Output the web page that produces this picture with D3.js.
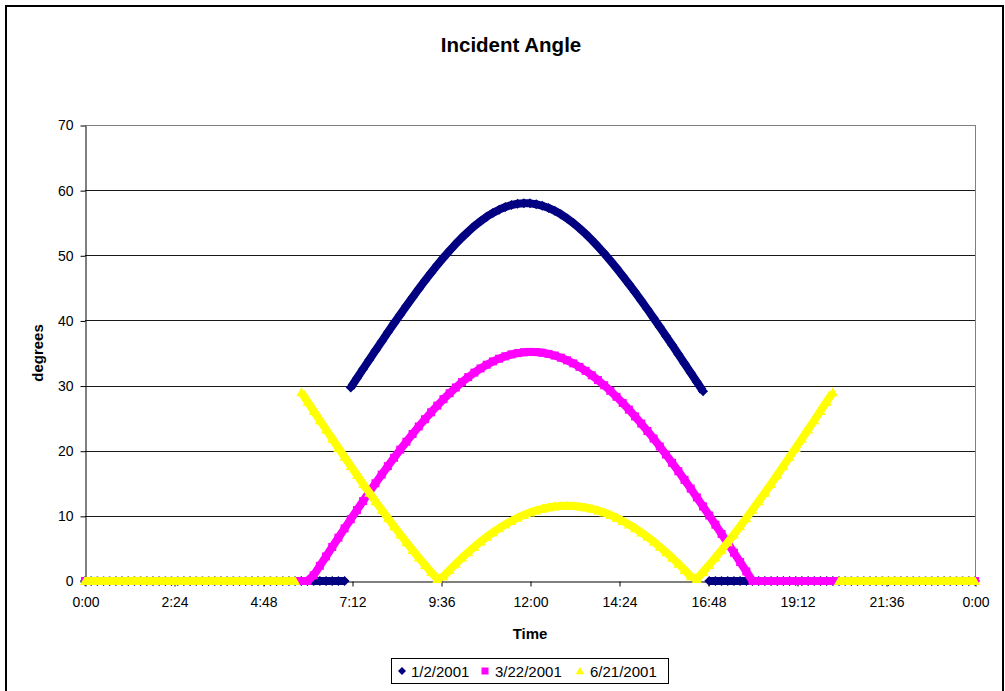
<!DOCTYPE html>
<html><head><meta charset="utf-8">
<script src="https://cdn.jsdelivr.net/npm/d3@7"></script>
<style>
body{margin:0;background:#fff}
svg{display:block}
text{font-family:"Liberation Sans",Arial,Helvetica,sans-serif;fill:#000}
</style>
</head><body>
<svg id="chart" width="1005" height="691"></svg>
<script>
// sampling grid: minutes after midnight, every 10 minutes
const minutes = d3.range(0, 1441, 10);
const seriesNames = ["1/2/2001", "3/22/2001", "6/21/2001"];
const seriesColors = ["#000080", "#FF00FF", "#FFFF00"];

const jan02 = [
  0,0,0,0,0,0,0,0,0,0,
  0,0,0,0,0,0,0,0,0,0,
  0,0,0,0,0,0,0,0,0,0,
  0,0,0,0,0,0,0,0,0,0,
  0,0,0,
  29.70,31.12,32.56,33.97,35.38,36.78,38.17,39.55,40.89,42.24,
  43.55,44.84,46.10,47.32,48.50,49.63,50.72,51.76,52.73,53.63,
  54.48,55.23,55.92,56.51,57.00,57.41,57.72,57.91,58.00,57.97,
  57.84,57.60,57.27,56.83,56.29,55.66,54.95,54.15,53.29,52.34,
  51.34,50.29,49.18,48.03,46.83,45.60,44.33,43.03,41.71,40.36,
  38.99,37.61,36.22,34.82,33.40,31.98,30.56,29.12,
  0,0,0,0,0,0,0,0,0,0,
  0,0,0,0,0,0,0,0,0,0,
  0,0,0,0,0,0,0,0,0,0,
  0,0,0,0,0,0,0,0,0,0,
  0,0,0,0
];

const mar22 = [
  0,0,0,0,0,0,0,0,0,0,
  0,0,0,0,0,0,0,0,0,0,
  0,0,0,0,0,0,0,0,0,0,
  0,0,0,0,0,0,0,
  0.88,2.33,3.77,5.22,6.65,8.08,9.49,10.89,12.27,13.65,
  15.00,16.33,17.63,18.91,20.16,21.38,22.57,23.72,24.83,25.90,
  26.92,27.91,28.83,29.71,30.53,31.29,31.99,32.63,33.20,33.71,
  34.13,34.49,34.78,34.98,35.11,35.17,35.14,35.04,34.86,34.61,
  34.28,33.88,33.41,32.87,32.26,31.58,30.84,30.05,29.19,28.28,
  27.32,26.31,25.26,24.17,23.03,21.86,20.65,19.41,18.14,16.85,
  15.53,14.19,12.83,11.45,10.05,8.64,7.22,5.79,4.35,2.91,
  1.46,
  0,0,0,0,0,0,0,0,0,0,
  0,0,0,0,0,0,0,0,0,0,
  0,0,0,0,0,0,0,0,0,0,
  0,0,0,0,0,0,0
];

const jun21 = [
  0,0,0,0,0,0,0,0,0,0,
  0,0,0,0,0,0,0,0,0,0,
  0,0,0,0,0,0,0,0,0,0,
  0,0,0,0,0,
  28.96,27.52,26.09,24.66,23.24,21.83,20.41,19.02,17.64,16.26,
  14.90,13.56,12.24,10.94,9.65,8.39,7.15,5.94,4.76,3.59,
  2.47,1.38,0.32,0.71,1.70,2.65,3.56,4.43,5.26,6.04,
  6.78,7.46,8.10,8.69,9.22,9.71,10.14,10.52,10.83,11.09,
  11.30,11.44,11.53,11.56,11.53,11.44,11.30,11.09,10.83,10.52,
  10.14,9.71,9.22,8.69,8.10,7.46,6.78,6.04,5.26,4.43,
  3.56,2.65,1.70,0.71,0.32,1.38,2.47,3.59,4.76,5.94,
  7.15,8.39,9.65,10.94,12.24,13.56,14.90,16.26,17.64,19.02,
  20.41,21.83,23.24,24.66,26.09,27.52,28.96,
  0,0,0,0,0,0,0,0,0,0,
  0,0,0,0,0,0,0,0,0,0,
  0,0,0
];

const xTickValues = [0,144,288,432,576,720,864,1008,1152,1296,1440];
const xTickLabels = ["0:00","2:24","4:48","7:12","9:36","12:00","14:24","16:48","19:12","21:36","0:00"];
const yTickValues = [0,10,20,30,40,50,60,70];

const titleText = "Incident Angle";
const xTitle = "Time";
const yTitle = "degrees";

// ---------- drawing ----------
const svg = d3.select("#chart");
const L = 85, R = 975, T = 125, B = 581;
const x = d3.scaleLinear().domain([0, 1440]).range([L, R]);
const y = d3.scaleLinear().domain([0, 70]).range([B, T]);

// chart area border
svg.append("rect").attr("x", 6).attr("y", 6).attr("width", 997).attr("height", 720)
  .attr("fill", "#fff").attr("stroke", "#000").attr("stroke-width", 2);

// title
svg.append("text").attr("x", 511).attr("y", 52).attr("text-anchor", "middle")
  .attr("font-size", 20.5).attr("font-weight", "bold").text(titleText);

// gridlines
svg.append("g").selectAll("line").data(yTickValues.filter(v => v > 0)).join("line")
  .attr("x1", L).attr("x2", R)
  .attr("y1", d => Math.round(y(d)) + 0.5).attr("y2", d => Math.round(y(d)) + 0.5)
  .attr("stroke", d => d === 70 ? "#808080" : "#1a1a1a").attr("stroke-width", 1);
// right plot border
svg.append("line").attr("x1", R + 0.5).attr("x2", R + 0.5).attr("y1", T).attr("y2", B)
  .attr("stroke", "#808080");

// axes
const yAxis = d3.axisLeft(y).tickValues(yTickValues).tickSize(5).tickSizeOuter(0).tickPadding(7);
const gy = svg.append("g").attr("transform", `translate(${L + 0.5},0.5)`).call(yAxis);
const xAxis = d3.axisBottom(x).tickValues(xTickValues).tickSize(5).tickSizeOuter(0).tickPadding(11)
  .tickFormat((d, i) => xTickLabels[i]);
const gx = svg.append("g").attr("transform", `translate(0.5,${Math.round(B) + 0.5})`).call(xAxis);
[gx, gy].forEach(g => {
  g.select(".domain").attr("stroke", "#000");
  g.selectAll(".tick line").attr("stroke", "#000");
  g.selectAll(".tick text").attr("font-size", 14).attr("font-family", '"Liberation Sans", Arial, sans-serif').attr("fill", "#000");
});

// axis titles
svg.append("text").attr("x", 530).attr("y", 639).attr("text-anchor", "middle")
  .attr("font-size", 15).attr("font-weight", "bold").text(xTitle);
svg.append("text").attr("transform", "translate(43,353) rotate(-90)").attr("text-anchor", "middle")
  .attr("font-size", 15).attr("font-weight", "bold").text(yTitle);

// marker shapes
const markerPaths = [
  "M0,-5L5,0L0,5L-5,0Z",            // diamond
  "M-4,-4H4V4H-4Z",                  // square
  "M0,-5L5,4L-5,4Z"                  // triangle
];
const legendMarkerPaths = [
  "M0,-4L4,0L0,4L-4,0Z",
  "M-3.5,-3.5H3.5V3.5H-3.5Z",
  "M0,-4.2L4.3,3.3L-4.3,3.3Z"
];
const lineWidths = [8, 8, 8];

function segments(vals) {
  const segs = []; let cur = [];
  vals.forEach((v, i) => {
    if (i > 0 && Math.abs(v - vals[i - 1]) > 12) { segs.push(cur); cur = []; }
    cur.push([minutes[i], v]);
  });
  segs.push(cur);
  return segs;
}
const line = d3.line().x(d => x(d[0])).y(d => y(d[1]));

[jan02, mar22, jun21].forEach((vals, si) => {
  const g = svg.append("g");
  g.selectAll("path.seg").data(segments(vals)).join("path").attr("class", "seg")
    .attr("d", line).attr("fill", "none").attr("stroke", seriesColors[si])
    .attr("stroke-width", lineWidths[si]).attr("stroke-linejoin", "round");
  g.selectAll("path.mk").data(vals.map((v, i) => [minutes[i], v])).join("path").attr("class", "mk")
    .attr("d", markerPaths[si]).attr("fill", seriesColors[si])
    .attr("transform", d => `translate(${x(d[0])},${y(d[1])})`);
});

// legend
const lg = svg.append("g");
lg.append("rect").attr("x", 391.5).attr("y", 658.5).attr("width", 277).attr("height", 25)
  .attr("fill", "#fff").attr("stroke", "#000");
const legendItems = [
  {mx: 402, tx: 411},
  {mx: 485, tx: 495},
  {mx: 580, tx: 590}
];
legendItems.forEach((it, i) => {
  lg.append("path").attr("d", legendMarkerPaths[i]).attr("fill", seriesColors[i])
    .attr("transform", `translate(${it.mx},671)`);
  lg.append("text").attr("x", it.tx).attr("y", 676.5).attr("font-size", 15).text(seriesNames[i]);
});
</script>
</body></html>
